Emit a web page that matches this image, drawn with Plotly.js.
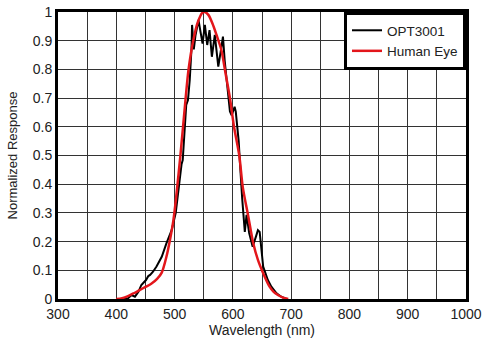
<!DOCTYPE html>
<html><head><meta charset="utf-8">
<script src="https://cdn.plot.ly/plotly-3.0.1.min.js"></script>
<style>html,body{margin:0;padding:0;background:#fff}#chart{width:500px;height:354px}</style>
</head><body><div id="chart"></div>
<script>
// OPT3001 measured response (wavelength nm, normalized)
const optWavelength = [410,420,426,432,438,443,451,455,458,463,469,478,486,495,502,506,509,512,514,517,520,523,526,529,530,533,536,541,545,548,552,556,560,564,569,575,579,583,586,589,592,595,598,603,605,610,612,614,616,620.5,623.5,628,634,640,643,646,652,660,666,675,683,692];
const optResponse   = [0,0.002,0.014,0.008,0.025,0.049,0.066,0.08,0.084,0.095,0.113,0.147,0.194,0.24,0.3,0.368,0.438,0.47,0.484,0.58,0.676,0.693,0.763,0.87,0.955,0.87,0.92,0.972,0.93,0.89,0.955,0.885,0.937,0.844,0.92,0.81,0.86,0.914,0.83,0.775,0.73,0.653,0.64,0.67,0.653,0.55,0.48,0.41,0.35,0.234,0.293,0.23,0.182,0.22,0.24,0.234,0.113,0.066,0.043,0.02,0.008,0];
// Human eye photopic response
const eyeWavelength = [400,410,420,430,440,450,460,470,478,486,492,498,503,510,519,524,532,540,548,552,558,565,572,580,588,595,602,611,617,626,635,643,652,663,670,678,686,695];
const eyeResponse   = [0,0.003,0.01,0.02,0.031,0.042,0.053,0.07,0.092,0.147,0.205,0.275,0.36,0.5,0.7,0.8,0.9,0.965,0.998,1.0,0.99,0.96,0.92,0.87,0.78,0.7,0.6,0.5,0.39,0.293,0.194,0.136,0.09,0.043,0.025,0.013,0.005,0];
const seriesNames = ["OPT3001","Human Eye"];
const xTickVals = [300,400,500,600,700,800,900,1000];
const yTickVals = [0,0.1,0.2,0.3,0.4,0.5,0.6,0.7,0.8,0.9,1];
const yTickText = ["0","0.1","0.2","0.3","0.4","0.5","0.6","0.7","0.8","0.9","1"];

const font = "Liberation Sans, Arial, sans-serif";
const traces = [
  {x: optWavelength, y: optResponse, name: seriesNames[0], mode: "lines",
   line: {color: "#000000", width: 2}},
  {x: eyeWavelength, y: eyeResponse, name: seriesNames[1], mode: "lines",
   line: {color: "#e3161b", width: 2.5, shape: "spline", smoothing: 0.8}}
];
const layout = {
  width: 500, height: 354,
  margin: {l: 58, r: 34, t: 12, b: 55},
  paper_bgcolor: "#fff", plot_bgcolor: "#fff",
  font: {family: font, size: 14, color: "#222"},
  showlegend: true,
  legend: {x: 1, y: 1, xanchor: "right", yanchor: "top",
           bgcolor: "#fff", bordercolor: "#000", borderwidth: 3,
           font: {family: font, size: 13.5, color: "#222"}, tracegroupgap: 0,
           itemwidth: 30},
  xaxis: {range: [300, 1000], tickvals: xTickVals, ticks: "", 
          showgrid: true, gridcolor: "#333", gridwidth: 1,
          minor: {dtick: 50, showgrid: true, gridcolor: "#333", gridwidth: 1},
          showline: true, linecolor: "#000", linewidth: 3, mirror: true,
          zeroline: false, tickfont: {size: 14},
          title: {text: "Wavelength (nm)", font: {size: 14}, standoff: 4}},
  yaxis: {range: [0, 1], tickvals: yTickVals, ticktext: yTickText, ticks: "",
          showgrid: true, gridcolor: "#333", gridwidth: 1,
          showline: true, linecolor: "#000", linewidth: 3, mirror: true,
          zeroline: false, tickfont: {size: 14},
          title: {text: "Normalized Response", font: {size: 13}, standoff: 13}}
};
Plotly.newPlot("chart", traces, layout, {displayModeBar: false, staticPlot: true});
</script></body></html>
